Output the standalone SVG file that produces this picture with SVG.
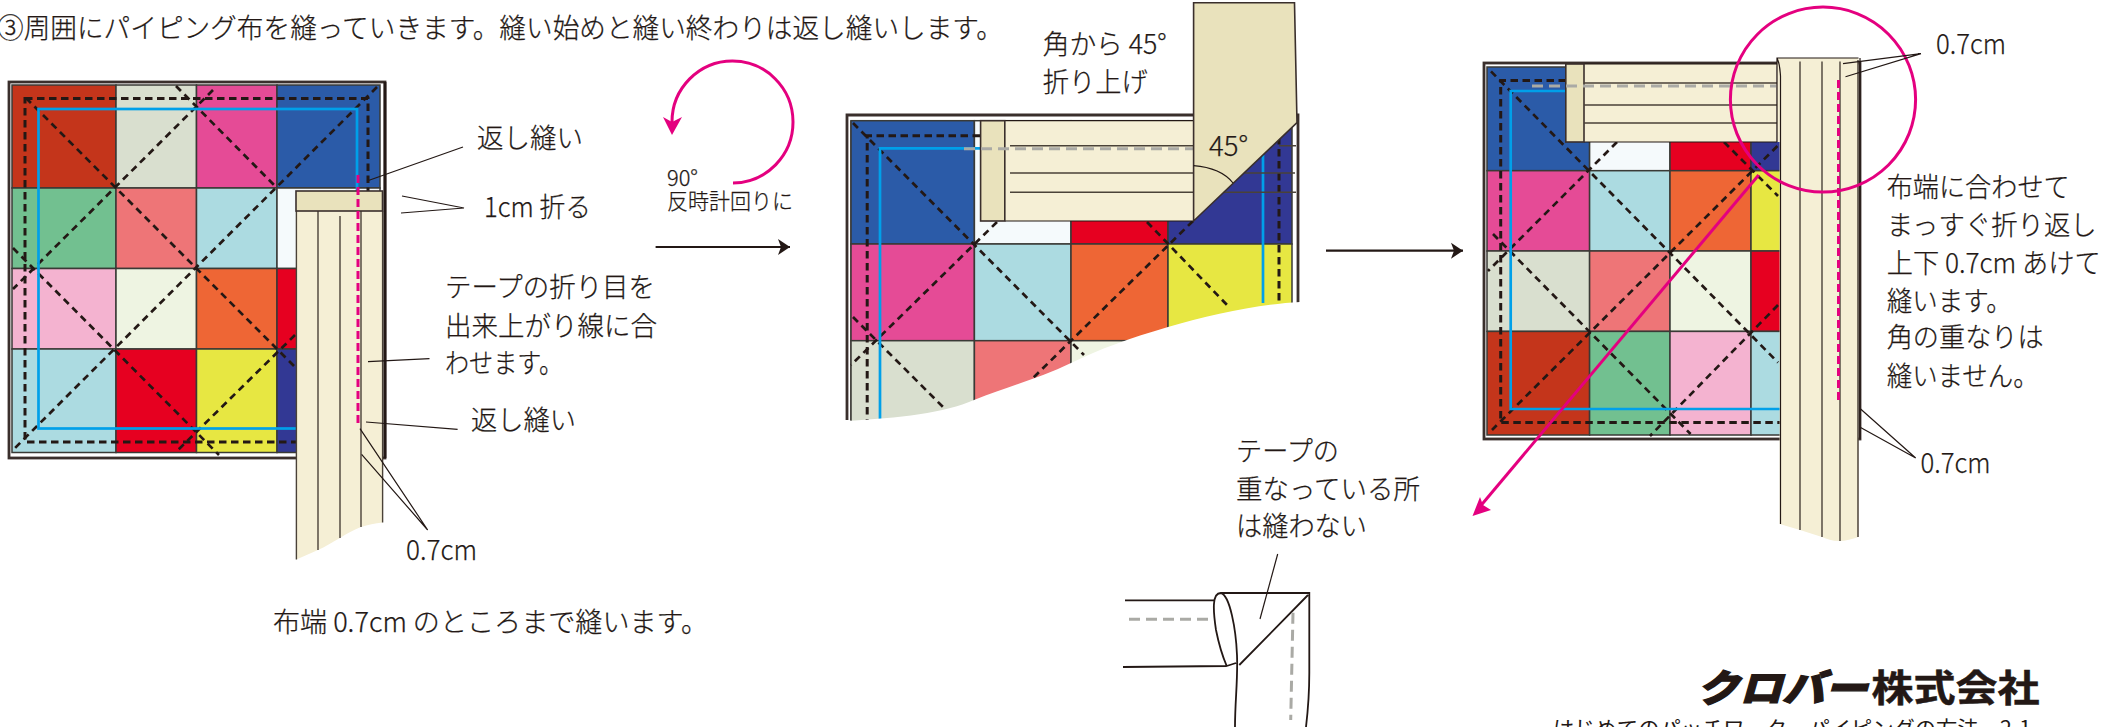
<svg xmlns="http://www.w3.org/2000/svg" width="2120" height="727" viewBox="0 0 2120 727">
<style>
text{font-family:"Noto Sans CJK JP","Noto Sans",sans-serif;font-weight:300;fill:#231815;font-size:27.500px;stroke:#231815;stroke-width:.25}
.s{font-size:22px}
.lat{font-size:28px}
.ln{fill:none;stroke:#231815;stroke-width:1.2}
.o{fill:#fff;stroke:#3a2f2c;stroke-width:2.8}
.c rect{stroke:#3a3a36;stroke-width:1.5}
.br{fill:#c4351b}.gg{fill:#d9dfcf}.pk{fill:#e54b96}.bl{fill:#2b5ba8}.gr{fill:#72c090}.sa{fill:#ee7577}.lb{fill:#acdbe1}.wh{fill:#f5fafc}.lp{fill:#f4b3d0}.pg{fill:#eef4e2}.or{fill:#ee6635}.rd{fill:#e60020}.ye{fill:#e7e742}.nv{fill:#323894}
.dg{fill:none;stroke:#231815;stroke-width:2.7;stroke-dasharray:7 5}
.db{fill:none;stroke:#231815;stroke-width:3;stroke-dasharray:7.500 4.500}
.blue{fill:none;stroke:#00a0e9;stroke-width:2.7}
.gd{fill:none;stroke:#aaaaa5;stroke-width:3;stroke-dasharray:11 6}
.md{fill:none;stroke:#e4007f;stroke-width:3;stroke-dasharray:8 4}
.mg{fill:none;stroke:#e4007f;stroke-width:3}
.mf{fill:#e4007f}
.t{fill:#f5efd5}
.f{fill:#e9e2bc;stroke:#3a2f2c;stroke-width:1.6}
.tl{fill:none;stroke:#4a4238;stroke-width:1.4}
.k{fill:#231815}
.ar{fill:none;stroke:#231815;stroke-width:2.2}
</style>
<defs>
<marker id="ah" markerUnits="userSpaceOnUse" markerWidth="14" markerHeight="18" refX="12" refY="8" orient="auto" viewBox="0 0 14 16"><path class="k" d="M0,0L12,8L0,16L3,8Z"/></marker>
</defs>

<text id="title" x="-3" y="38" textLength="1006" lengthAdjust="spacingAndGlyphs">③周囲にパイピング布を縫っていきます。縫い始めと縫い終わりは返し縫いします。</text>

<g id="quilt-left">
<rect class="o" x="9" y="82" width="376" height="376"/>
<g class="c">
<rect class="br" x="12" y="85" width="104" height="103"/><rect class="gg" x="116" y="85" width="80.5" height="103"/><rect class="pk" x="196.500" y="85" width="80.500" height="103"/><rect class="bl" x="277" y="85" width="103" height="103"/>
<rect class="gr" x="12" y="188" width="104" height="80.500"/><rect class="sa" x="116" y="188" width="80.5" height="80.500"/><rect class="lb" x="196.500" y="188" width="80.500" height="80.500"/><rect class="wh" x="277" y="188" width="103" height="80.500"/>
<rect class="lp" x="12" y="268.500" width="104" height="80.500"/><rect class="pg" x="116" y="268.500" width="80.5" height="80.500"/><rect class="or" x="196.500" y="268.500" width="80.500" height="80.500"/><rect class="rd" x="277" y="268.500" width="103" height="80.500"/>
<rect class="lb" x="12" y="349" width="104" height="103.500"/><rect class="rd" x="116" y="349" width="80.5" height="103.500"/><rect class="ye" x="196.500" y="349" width="80.500" height="103.500"/><rect class="nv" x="277" y="349" width="103" height="103.500"/>
</g>
<path class="dg" d="M26,98L295,367M176,86L277,188M377,87L13,450M213,90L13,289M13,248L219,455M295,335L176,452"/>
<rect class="db" x="25" y="98.500" width="343" height="343.500"/>
<rect class="blue" x="38.500" y="109" width="318.500" height="319.500"/>
</g>

<g id="tape-left">
<path class="t" d="M296.400,192H382.600V522.400C375,523 368,525 361,527C353,530 346,534 340,538C332,542 325,547 318,550L296.400,559.500Z"/>
<path class="tl" d="M296.400,211V559.500M382.600,211V522.400M318,208V550M340,216V538M361,211V527"/>
<rect class="f" x="296" y="191" width="86.500" height="20"/>
<path class="md" d="M358,175V425"/>
<path class="ln" d="M385,82V458" style="stroke-width:2.8"/>
</g>

<g id="turn-arrow">
<path class="mg" d="M733,183A60.500,61 0 1 0 672,122"/>
<path class="mf" d="M672,135L663,117L672,122L682,117Z"/>
<text class="s" x="667" y="186" textLength="31" lengthAdjust="spacingAndGlyphs">90°</text>
<text class="s" x="667" y="209" textLength="126" lengthAdjust="spacingAndGlyphs">反時計回りに</text>
</g>

<g id="quilt-middle">
<path class="o" d="M847,420V115H1298V303" style="fill:#fff"/>
<path fill="none" stroke="#3a2f2c" stroke-width="1.4" d="M851,420V120.500"/>
<g class="c">
<rect class="bl" x="851" y="120.700" width="123.400" height="123.300"/><rect class="wh" x="974.400" y="120.700" width="96.600" height="123.300"/><rect class="rd" x="1071" y="120.700" width="97" height="123.300"/><rect class="nv" x="1168" y="120.700" width="124" height="123.300"/>
<rect class="pk" x="851" y="244" width="123.400" height="96.700"/><rect class="lb" x="974.400" y="244" width="96.600" height="96.700"/><rect class="or" x="1071" y="244" width="97" height="96.700"/><rect class="ye" x="1168" y="244" width="124" height="96.700"/>
<rect class="gg" x="851" y="340.700" width="123.400" height="97"/><rect class="sa" x="974.400" y="340.700" width="96.600" height="97"/><rect class="pg" x="1071" y="340.700" width="97" height="97"/>
</g>
<path class="dg" d="M853,123L1084,355M1147,222L1229,307M853,317L944,408M997,222L851,365M1193,221L1033,378"/>
<path class="db" d="M980,135.700H867.200V420M1279,137V303"/>
<path class="blue" d="M980,148.300H880V420M1263,155V303"/>
<path fill="#fff" d="M845,421C900,418 945,413 974,400C1010,386 1040,378 1071,363C1100,349 1130,338 1168,327C1210,315 1260,304 1300,302V460H845Z"/>
</g>

<g id="tape-middle">
<rect class="t" x="980.600" y="120.700" width="213" height="100.300"/>
<path class="ln" d="M1004.800,120.700H1193.600M1004.800,221H1193.600"/>
<rect class="f" x="980.600" y="120.700" width="24.200" height="100.300"/>
<path class="tl" d="M1010,145.700H1193.600M1279,145.700H1296M1010,173H1193.600M1245,173H1295M1010,192.300H1193.600M1216,192.300H1296"/>
<path class="gd" d="M964,148.700H1193.600"/>
<path class="f" d="M1193.600,2.700H1294.500L1297,122.700L1193.600,221Z"/>
<path class="ln" d="M1193.600,165.700C1210,167 1225,173 1233,183"/>
<text x="1209" y="156" textLength="39" lengthAdjust="spacingAndGlyphs">45°</text>
</g>

<g id="label-middle">
<text x="1042.700" y="54" textLength="124" lengthAdjust="spacingAndGlyphs">角から 45°</text>
<text x="1042.700" y="92" textLength="105" lengthAdjust="spacingAndGlyphs">折り上げ</text>
</g>

<g id="quilt-right">
<rect class="o" x="1484" y="63" width="376" height="376"/>
<g class="c">
<rect class="bl" x="1487" y="67" width="102.600" height="103.700"/><rect class="wh" x="1589.600" y="67" width="80.400" height="103.700"/><rect class="rd" x="1670" y="67" width="81" height="103.700"/><rect class="nv" x="1751" y="67" width="103" height="103.700"/>
<rect class="pk" x="1487" y="170.700" width="102.600" height="80.300"/><rect class="lb" x="1589.600" y="170.700" width="80.400" height="80.300"/><rect class="or" x="1670" y="170.700" width="81" height="80.300"/><rect class="ye" x="1751" y="170.700" width="103" height="80.300"/>
<rect class="gg" x="1487" y="251" width="102.600" height="80.400"/><rect class="sa" x="1589.600" y="251" width="80.400" height="80.400"/><rect class="pg" x="1670" y="251" width="81" height="80.400"/><rect class="rd" x="1751" y="251" width="103" height="80.400"/>
<rect class="br" x="1487" y="331.400" width="102.600" height="103.600"/><rect class="gr" x="1589.600" y="331.400" width="80.400" height="103.600"/><rect class="lp" x="1670" y="331.400" width="81" height="103.600"/><rect class="lb" x="1751" y="331.400" width="103" height="103.600"/>
</g>
<path class="dg" d="M1491,71.400L1778,362.500M1724,142L1778,196M1493,234L1690.600,434M1617,142L1488,271M1777.400,146L1492,430M1778,305L1650,436"/>
<path class="db" d="M1566,80.400H1500.700V422.500H1780"/>
<path class="blue" d="M1566,91H1510.700V409H1780"/>
</g>

<g id="tape-right">
<rect class="t" x="1565.800" y="64" width="211" height="78"/>
<path class="ln" d="M1584,64H1777M1584,142H1777"/>
<rect class="f" x="1565.800" y="64" width="18.200" height="78"/>
<path class="tl" d="M1584,83H1777M1584,105H1777M1584,123H1777"/>
<path class="gd" d="M1532,86H1776"/>
<path class="t" d="M1777,58H1858.500V537C1852,539 1846,541 1839,541C1832,541 1827,539 1822,537L1800,530L1779.600,524V142H1777Z"/>
<path class="ln" d="M1777,142V58H1858.500M1777,58C1780,64 1780,70 1780.500,76V524M1860,58V439M1858,60V537"/>
<path class="tl" d="M1800,61.400V530M1822,61.400V537M1840,61.400V541"/>
<path class="md" d="M1838.500,80V403"/>
</g>

<g id="callout">
<ellipse class="mg" cx="1823" cy="99.600" rx="92.600" ry="92.500"/>
<path class="mg" d="M1758.700,175L1478,509"/>
<path class="mf" d="M1472.500,516L1480,497L1483,505L1491,510Z"/>
</g>

<g id="connectors">
<path class="ar" d="M655.600,247H790" marker-end="url(#ah)"/>
<path class="ar" d="M1326,250.700H1463" marker-end="url(#ah)"/>
<path class="ln" d="M463,147L367,181M402,196L464,208L401,213M429.500,358.600L368,361.700M457.600,429.400L366,422M427.700,530L360,428.600M427.700,530L361.600,454.300"/>
<path class="ln" d="M1921,53.600L1843,63.600M1921,53.600L1845.500,76.800M1915.700,458L1860.600,409M1915.700,458L1860.600,427.500"/>
<path class="ln" d="M1277.700,554L1260,619"/>
</g>

<g id="labels-left">
<text x="477" y="148" textLength="106" lengthAdjust="spacingAndGlyphs">返し縫い</text>
<text x="484" y="217" textLength="107" lengthAdjust="spacingAndGlyphs">1cm 折る</text>
<text x="445" y="297" textLength="210" lengthAdjust="spacingAndGlyphs">テープの折り目を</text>
<text x="445" y="336" textLength="212" lengthAdjust="spacingAndGlyphs">出来上がり線に合</text>
<text x="445" y="373" textLength="118" lengthAdjust="spacingAndGlyphs">わせます。</text>
<text x="471" y="430" textLength="105" lengthAdjust="spacingAndGlyphs">返し縫い</text>
<text class="lat" x="406" y="560" textLength="71" lengthAdjust="spacingAndGlyphs">0.7cm</text>
<text x="273" y="632" textLength="435" lengthAdjust="spacingAndGlyphs">布端 0.7cm のところまで縫います。</text>
</g>

<g id="labels-right">
<text class="lat" x="1936" y="54" textLength="70" lengthAdjust="spacingAndGlyphs">0.7cm</text>
<text x="1886.700" y="197" textLength="183" lengthAdjust="spacingAndGlyphs">布端に合わせて</text>
<text x="1886.700" y="235" textLength="210" lengthAdjust="spacingAndGlyphs">まっすぐ折り返し</text>
<text x="1886.700" y="273" textLength="214" lengthAdjust="spacingAndGlyphs">上下 0.7cm あけて</text>
<text x="1886.700" y="311" textLength="125" lengthAdjust="spacingAndGlyphs">縫います。</text>
<text x="1886.700" y="347" textLength="157" lengthAdjust="spacingAndGlyphs">角の重なりは</text>
<text x="1886.700" y="386" textLength="152" lengthAdjust="spacingAndGlyphs">縫いません。</text>
<text class="lat" x="1920.500" y="473" textLength="70" lengthAdjust="spacingAndGlyphs">0.7cm</text>
</g>

<g id="detail">
<text x="1236" y="461" textLength="103" lengthAdjust="spacingAndGlyphs">テープの</text>
<text x="1236" y="499" textLength="184" lengthAdjust="spacingAndGlyphs">重なっている所</text>
<text x="1236" y="536" textLength="131" lengthAdjust="spacingAndGlyphs">は縫わない</text>
<path class="ln" style="stroke-width:1.8" d="M1125,600.300H1214M1123,667L1226.700,666M1220.700,593H1309.300V673C1309.300,690 1308,710 1306,727M1220.700,593C1212,593 1213,610 1216,630C1219,645 1222,655 1226.700,666L1236,663M1220.700,593C1230,595 1236,630 1237,655C1238,680 1235,700 1235,727M1308,595L1239.300,665"/>
<path class="gd" d="M1129,619.300H1213M1293,612.700L1290.700,720"/>
</g>

<g id="footer">
<text x="1696.400" y="702" textLength="171" lengthAdjust="spacingAndGlyphs" style="font-size:38px;font-weight:900;font-style:italic;stroke-width:1.2">クロバー</text>
<text x="1871.500" y="702" textLength="168" lengthAdjust="spacingAndGlyphs" style="font-size:37px;font-weight:700;stroke-width:.5">株式会社</text>
<text x="1553" y="736" textLength="478" lengthAdjust="spacingAndGlyphs" style="font-size:21px;font-weight:400;stroke-width:0">はじめてのパッチワーク　パイピングの方法　2-1</text>
</g>
</svg>
